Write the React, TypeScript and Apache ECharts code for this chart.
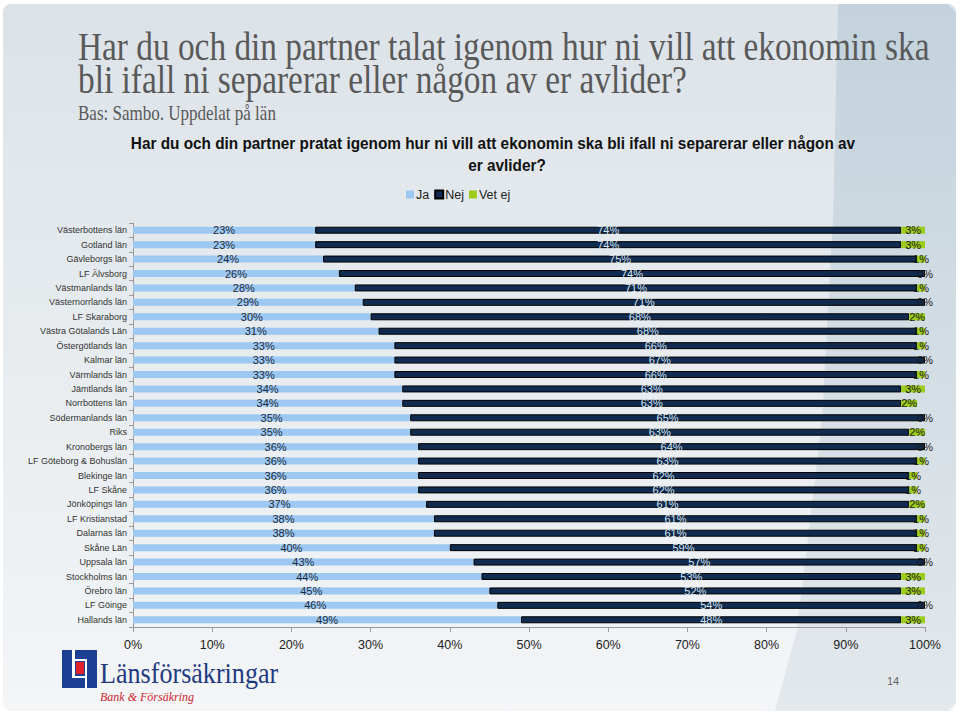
import React, { useEffect, useRef } from "react";
import * as echarts from "echarts";

const categories = [
  "Västerbottens län", "Gotland län", "Gävleborgs län", "LF Älvsborg", "Västmanlands län",
  "Västernorrlands län", "LF Skaraborg", "Västra Götalands Län", "Östergötlands län", "Kalmar län",
  "Värmlands län", "Jämtlands län", "Norrbottens län", "Södermanlands län", "Riks",
  "Kronobergs län", "LF Göteborg & Bohuslän", "Blekinge län", "LF Skåne", "Jönköpings län",
  "LF Kristianstad", "Dalarnas län", "Skåne Län", "Uppsala län", "Stockholms län",
  "Örebro län", "LF Göinge", "Hallands län",
];
const jaValues = [23, 23, 24, 26, 28, 29, 30, 31, 33, 33, 33, 34, 34, 35, 35, 36, 36, 36, 36, 37, 38, 38, 40, 43, 44, 45, 46, 49];
const nejValues = [74, 74, 75, 74, 71, 71, 68, 68, 66, 67, 66, 63, 63, 65, 63, 64, 63, 62, 62, 61, 61, 61, 59, 57, 53, 52, 54, 48];
const vetEjValues = [3, 3, 1, 0, 1, 0, 2, 1, 1, 0, 1, 3, 2, 0, 2, 0, 1, 1, 1, 2, 1, 1, 1, 0, 3, 3, 0, 3];
const seriesNames = ["Ja", "Nej", "Vet ej"];
const xTicks = [0, 10, 20, 30, 40, 50, 60, 70, 80, 90, 100];

const slideTitle = "Har du och din partner talat igenom hur ni vill att ekonomin ska\nbli ifall ni separerar eller någon av er avlider?";
const slideSub = "Bas: Sambo. Uppdelat på län";
const chartTitle1 = "Har du och din partner pratat igenom hur ni vill att ekonomin ska bli ifall ni separerar eller någon av";
const chartTitle2 = "er avlider?";

const SANS = "'Liberation Sans', Arial, sans-serif";
const SERIF = "'Liberation Serif', 'Times New Roman', serif";

export default function App() {
  const ref = useRef<HTMLDivElement>(null);
  useEffect(() => {
    if (!ref.current) return;
    const chart = echarts.init(ref.current, null, { renderer: "svg" });
    const labelBase = { show: true, position: "inside", fontSize: 11, fontFamily: SANS, formatter: "{c}%" };
    const option: any = {
      animation: false,
      backgroundColor: "#ffffff",
      legend: {
        data: seriesNames,
        left: 401,
        top: 183,
        itemWidth: 8,
        itemHeight: 8,
        itemGap: 5,
        icon: "rect",
        textStyle: { fontSize: 12.5, fontFamily: SANS, color: "#222", padding: [0, 0, 0, -3] },
      },
      grid: { left: 133, right: 35, top: 223, bottom: 90, containLabel: false },
      xAxis: {
        type: "value",
        min: 0,
        max: 100,
        interval: 10,
        axisLine: { show: true, lineStyle: { color: "#9a9a9a" } },
        axisTick: { show: true, length: 5, lineStyle: { color: "#9a9a9a" } },
        splitLine: { show: false },
        axisLabel: { formatter: (v: number) => xTicks.includes(v) ? v + "%" : "", fontSize: 12.5, fontFamily: SANS, color: "#222", margin: 11 },
      },
      yAxis: {
        type: "category",
        data: categories,
        inverse: true,
        axisLine: { show: true, lineStyle: { color: "#9a9a9a" } },
        axisTick: { show: true, length: 4, lineStyle: { color: "#9a9a9a" } },
        axisLabel: { fontSize: 9, fontFamily: SANS, color: "#333", margin: 6 },
      },
      series: [
        {
          name: seriesNames[0], type: "bar", stack: "t", data: jaValues, barWidth: 7,
          itemStyle: { color: "#9dc8f2" },
          label: { ...labelBase, color: "#1b2a3a" },
        },
        {
          name: seriesNames[1], type: "bar", stack: "t", data: nejValues, barWidth: 7,
          itemStyle: { color: "#102b4f", borderColor: "#000", borderWidth: 1 },
          label: { ...labelBase, color: "#d6e4f2" },
        },
        {
          name: seriesNames[2], type: "bar", stack: "t", data: vetEjValues, barWidth: 7,
          itemStyle: { color: "#9ccc1c" },
          label: { ...labelBase, color: "#1a1a1a" },
        },
      ],
      graphic: [
        {
          type: "rect", z: -20, silent: true,
          shape: { x: 3, y: 4, width: 953, height: 707, r: 8 },
          style: {
            fill: new echarts.graphic.LinearGradient(0, 0, 0, 1, [
              { offset: 0, color: "#dce3e8" },
              { offset: 1, color: "#f3f5f7" },
            ]),
          },
        },
        {
          type: "polygon", z: -19, silent: true,
          shape: { points: [[838, 4], [948, 4], [956, 12], [956, 703], [948, 711], [775, 711], [797, 630], [822, 420], [833, 220]] },
          style: {
            fill: new echarts.graphic.LinearGradient(0, 0, 0, 1, [
              { offset: 0, color: "#c3d2dc" },
              { offset: 1, color: "#e3e8ec" },
            ]),
          },
        },
        { type: "text", x: 78, y: 31, scaleX: 0.855, style: { text: slideTitle, fontSize: 39, lineHeight: 33, fontFamily: SERIF, fill: "#595959", textVerticalAlign: "top" } },
        { type: "text", x: 78, y: 123, scaleX: 0.83, style: { text: slideSub, fontSize: 20.5, fontFamily: SERIF, fill: "#595959", textVerticalAlign: "bottom" } },
        { type: "text", x: 493, y: 143, scaleX: 0.93, style: { text: chartTitle1, fontSize: 16.5, fontWeight: "bold", fontFamily: SANS, fill: "#111", textAlign: "center", textVerticalAlign: "middle" } },
        { type: "text", x: 507, y: 165, scaleX: 0.93, style: { text: chartTitle2, fontSize: 16.5, fontWeight: "bold", fontFamily: SANS, fill: "#111", textAlign: "center", textVerticalAlign: "middle" } },
        // logo
        { type: "rect", shape: { x: 62, y: 650, width: 35, height: 38 }, style: { fill: "#1c3f93" } },
        { type: "rect", shape: { x: 72, y: 650, width: 3, height: 27 }, style: { fill: "#ffffff" } },
        { type: "rect", shape: { x: 72, y: 676, width: 15, height: 2 }, style: { fill: "#ffffff" } },
        { type: "rect", shape: { x: 85, y: 659, width: 2, height: 29 }, style: { fill: "#ffffff" } },
        { type: "rect", shape: { x: 75, y: 659, width: 12, height: 2 }, style: { fill: "#ffffff" } },
        { type: "rect", shape: { x: 76, y: 662, width: 8, height: 12 }, style: { fill: "#e3202a" } },
        { type: "text", x: 100, y: 688, scaleX: 0.9, style: { text: "Länsförsäkringar", fontSize: 29, fontFamily: SERIF, fill: "#1f3a7e", textVerticalAlign: "bottom" } },
        { type: "text", x: 100, y: 697, style: { text: "Bank & Försäkring", fontSize: 12, fontStyle: "italic", fontFamily: SERIF, fill: "#d0262e", textVerticalAlign: "middle" } },
        { type: "text", x: 893, y: 681, style: { text: "14", fontSize: 11, fontFamily: SANS, fill: "#666", textAlign: "center", textVerticalAlign: "middle" } },
      ],
    };
    chart.setOption(option);
    return () => chart.dispose();
  }, []);
  return <div ref={ref} style={{ position: "fixed", left: 0, top: 0, width: 960, height: 717 }} />;
}
